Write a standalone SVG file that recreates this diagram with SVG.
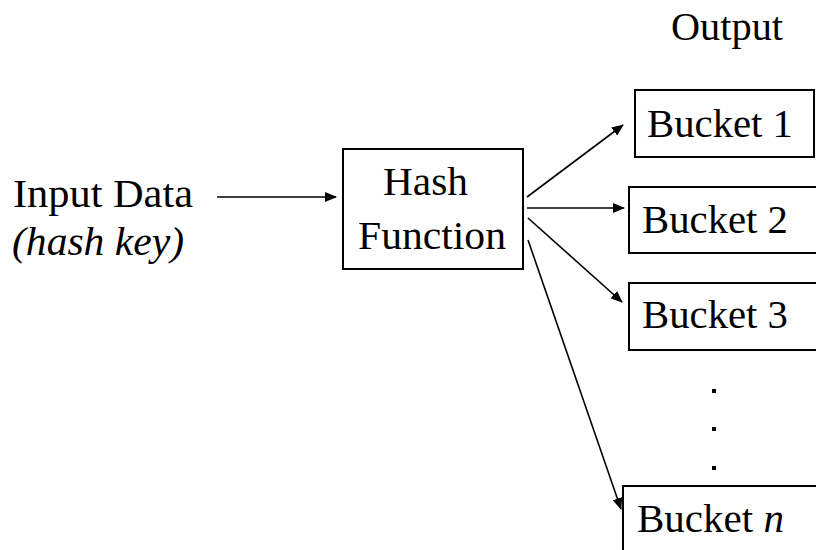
<svg xmlns="http://www.w3.org/2000/svg" width="816" height="550" viewBox="0 0 816 550">
  <style>
    .box { fill: #fff; stroke: #000; stroke-width: 2; }
    text { font-family: 'Liberation Serif', 'Times New Roman', serif; font-size: 41px; fill: #000; }
    .it { font-style: italic; }
    .edge { stroke: #000; stroke-width: 1.6; fill: none; marker-end: url(#head); }
  </style>
  <defs>
    <marker id="head" markerUnits="userSpaceOnUse" markerWidth="12" markerHeight="10" viewBox="0 0 12 10" refX="11" refY="5" orient="auto">
      <path d="M0,0 L12,5 L0,10 Z" fill="#000"/>
    </marker>
  </defs>
  <rect width="816" height="550" fill="#fff"/>

  <!-- Input label -->
  <g id="input">
    <text x="13" y="207" textLength="180" lengthAdjust="spacingAndGlyphs">Input Data</text>
    <text class="it" x="12" y="255" textLength="172" lengthAdjust="spacingAndGlyphs">(hash key)</text>
  </g>

  <!-- Output heading -->
  <g id="output">
    <text x="671" y="40" textLength="112" lengthAdjust="spacingAndGlyphs">Output</text>
  </g>

  <!-- Hash function -->
  <g id="hash">
    <rect class="box" x="343" y="149" width="180" height="120"/>
    <text x="383" y="195" textLength="85" lengthAdjust="spacingAndGlyphs">Hash</text>
    <text x="358" y="249" textLength="148" lengthAdjust="spacingAndGlyphs">Function</text>
  </g>

  <!-- Buckets -->
  <g id="bucket1">
    <rect class="box" x="635" y="90" width="179" height="67"/>
    <text x="647" y="137" textLength="146" lengthAdjust="spacingAndGlyphs">Bucket 1</text>
  </g>
  <g id="bucket2">
    <rect class="box" x="629" y="187" width="190" height="66"/>
    <text x="642" y="233" textLength="146" lengthAdjust="spacingAndGlyphs">Bucket 2</text>
  </g>
  <g id="bucket3">
    <rect class="box" x="629" y="283" width="190" height="67"/>
    <text x="642" y="328" textLength="146" lengthAdjust="spacingAndGlyphs">Bucket 3</text>
  </g>
  <g id="ellipsis">
    <rect x="712" y="389" width="4" height="4" fill="#000"/>
    <rect x="712" y="427" width="4" height="4" fill="#000"/>
    <rect x="712" y="466" width="4" height="4" fill="#000"/>
  </g>
  <g id="bucketn">
    <rect class="box" x="623" y="486" width="200" height="80"/>
    <text x="637" y="532">Bucket <tspan class="it">n</tspan></text>
  </g>

  <!-- Connectors -->
  <g id="connectors">
    <line class="edge" x1="217" y1="197" x2="336" y2="197"/>
    <line class="edge" x1="527" y1="197" x2="623" y2="125"/>
    <line class="edge" x1="527" y1="208" x2="624" y2="208"/>
    <line class="edge" x1="528" y1="218" x2="622" y2="302"/>
    <line class="edge" x1="528" y1="240" x2="621" y2="509"/>
  </g>
</svg>
